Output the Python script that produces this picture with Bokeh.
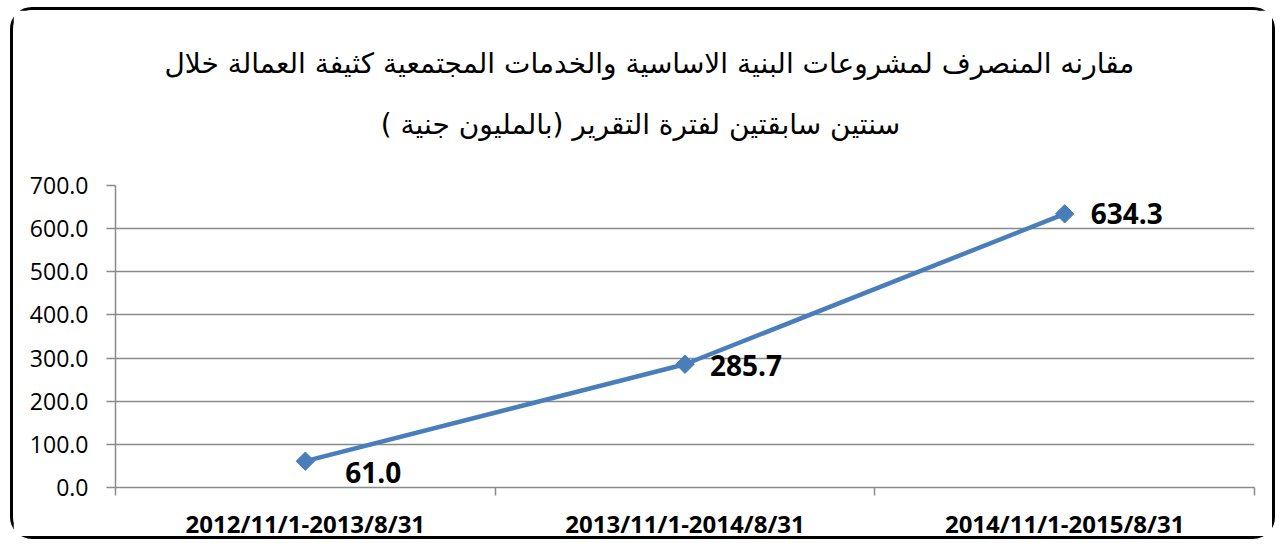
from bokeh.plotting import figure
from bokeh.models import (Range1d, FixedTicker, NumeralTickFormatter, Title,
                          ColumnDataSource)
from bokeh.embed import file_html
from bokeh.resources import INLINE
from bokeh.core.properties import value

# ---- data ----
periods = ["2012/11/1-2013/8/31", "2013/11/1-2014/8/31", "2014/11/1-2015/8/31"]
spent = [61.0, 285.7, 634.3]
y_ticks = [0, 100, 200, 300, 400, 500, 600, 700]
title_lines = [
    "مقارنه المنصرف لمشروعات البنية الاساسية والخدمات المجتمعية كثيفة العمالة خلال",
    "سنتين سابقتين لفترة التقرير  (بالمليون جنية )",
]

# ---- styling ----
label_dx = [40, 25, 26]
label_dy = [11, 1, 0]
BLUE = "#4a7ebb"
GREY = "#8a8a8a"
RLM = "\u200f"
NBSP = "\u00a0"

n = len(periods)
centers = [i + 0.5 for i in range(n)]   # category slot centres on a 0..n axis
edges = list(range(n + 1))              # category slot boundaries

W, H = 1265, 532
p = figure(x_range=Range1d(0, n), y_range=Range1d(0, 700), title=None,
           width=W, height=H, output_backend="svg", toolbar_location=None,
           min_border_left=102, min_border_right=24,
           min_border_top=175, min_border_bottom=55)
p.outline_line_color = None
p.styles = {"border": "3px solid black", "border-radius": "22px",
            "margin-left": "10px", "margin-top": "7px"}

# grid
p.xgrid.visible = False
p.ygrid.grid_line_color = GREY
p.ygrid.grid_line_width = 1.5
p.ygrid.ticker = FixedTicker(ticks=y_ticks)

# y axis
ya = p.yaxis[0]
ya.ticker = FixedTicker(ticks=y_ticks)
ya.formatter = NumeralTickFormatter(format="0.0")
ya.axis_line_color = GREY
ya.axis_line_width = 1.5
ya.major_tick_line_color = GREY
ya.major_tick_line_width = 1.5
ya.major_tick_in = 0
ya.major_tick_out = 9
ya.minor_tick_line_color = None
ya.major_label_standoff = 18
ya.major_label_text_font = "Open Sans"
ya.major_label_text_font_size = "23px"
ya.major_label_text_color = "black"

# x axis: labels at slot centres, tick marks at slot boundaries
xa = p.xaxis[0]
xa.ticker = FixedTicker(ticks=centers, minor_ticks=edges)
xa.major_label_overrides = {c: lab for c, lab in zip(centers, periods)}
xa.axis_line_color = GREY
xa.axis_line_width = 1.5
xa.major_tick_line_color = None
xa.major_tick_in = 0
xa.major_tick_out = 0
xa.minor_tick_line_color = GREY
xa.minor_tick_line_width = 1.5
xa.minor_tick_in = 0
xa.minor_tick_out = 8
xa.major_label_standoff = 11
xa.major_label_text_font = "Open Sans"
xa.major_label_text_font_style = "bold"
xa.major_label_text_font_size = "24px"
xa.major_label_text_color = "black"

# data
src = ColumnDataSource(dict(
    x=centers, spent=spent,
    label=["{:.1f}".format(v) for v in spent],
    dx=label_dx, dy=label_dy,
))
p.line(x="x", y="spent", source=src, line_color=BLUE, line_width=4.5)
p.scatter(x="x", y="spent", source=src, marker="square", size=13,
          angle=0.7854, fill_color=BLUE, line_color=BLUE)
p.text(x="x", y="spent", text="label", source=src,
       x_offset="dx", y_offset="dy", text_align="left", text_baseline="middle",
       text_font=value("Open Sans"), text_font_style="bold",
       text_font_size="28px", text_color="black")

# two-line title; right-side padding (RTL) nudges each centred line leftwards
spacer = Title(text=" ", standoff=16, text_font_size="12px")
t2 = Title(text=RLM + NBSP * 9 + title_lines[1] + RLM, align="center", standoff=26,
           text_font="DejaVu Sans", text_font_size="28px",
           text_font_style="normal", text_color="black")
t1 = Title(text=RLM + NBSP * 8 + title_lines[0], align="center", standoff=26,
           text_font="DejaVu Sans", text_font_size="28px",
           text_font_style="normal", text_color="black")
p.add_layout(spacer, "above")
p.add_layout(t2, "above")
p.add_layout(t1, "above")

open("out.html", "w").write(file_html(p, INLINE))
